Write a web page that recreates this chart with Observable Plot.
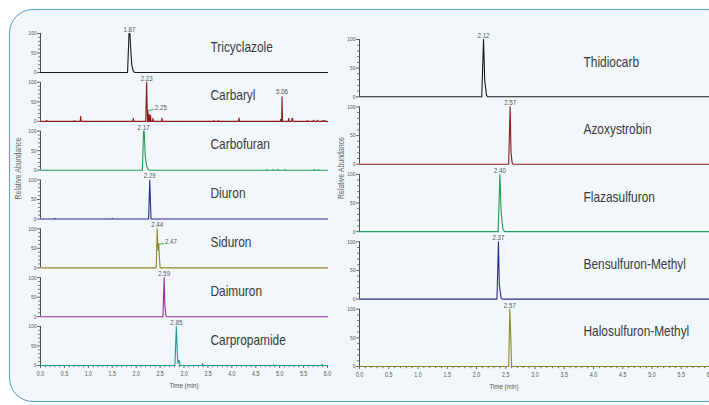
<!DOCTYPE html>
<html>
<head>
<meta charset="utf-8">
<script src="https://cdn.jsdelivr.net/npm/d3@7"></script>
<script src="https://cdn.jsdelivr.net/npm/@observablehq/plot@0.6"></script>
<style>
  html, body { margin: 0; padding: 0; background: #ffffff; }
  #wrap { position: relative; width: 709px; height: 405px; overflow: hidden; background: #ffffff; }
  #box { position: absolute; left: 9px; top: 9px; width: 720px; height: 391px; border: 1.5px solid #4f9fd3; border-radius: 24px; background: #f1f7fa; }
  #left { position: absolute; left: 0; top: 0; }
  #right { position: absolute; left: 330px; top: 0; }
</style>
</head>
<body>
<div id="wrap"><div id="box"></div><div id="left"></div><div id="right"></div></div>
<script>
// ---------- categories ----------
const leftNames = ["Tricyclazole", "Carbaryl", "Carbofuran", "Diuron", "Siduron", "Daimuron", "Carpropamide"];
const leftColors = ["#1a1a1a", "#8b1c1c", "#1f9e50", "#2b2b8f", "#8c8a2c", "#9b2a98", "#179a9a"];
const rightNames = ["Thidiocarb", "Azoxystrobin", "Flazasulfuron", "Bensulfuron-Methyl", "Halosulfuron-Methyl"];
const rightColors = ["#1a1a1a", "#8b1c1c", "#1f9e50", "#2b2b8f", "#8c8a2c"];

// ---------- tick labels ----------
const xMajor = [0, 0.5, 1, 1.5, 2, 2.5, 3, 3.5, 4, 4.5, 5, 5.5, 6];
const xMinor = [0.1,0.2,0.3,0.4,0.6,0.7,0.8,0.9,1.1,1.2,1.3,1.4,1.6,1.7,1.8,1.9,2.1,2.2,2.3,2.4,2.6,2.7,2.8,2.9,3.1,3.2,3.3,3.4,3.6,3.7,3.8,3.9,4.1,4.2,4.3,4.4,4.6,4.7,4.8,4.9,5.1,5.2,5.3,5.4,5.6,5.7,5.8,5.9];
const yMajor = [0, 50, 100];
const yMinor = [10, 20, 30, 40, 60, 70, 80, 90];

// ---------- chromatogram traces: [time (min), relative abundance] ----------
const tricyclazole = [[0,0],[1.82,0],[1.85,100],[1.87,100],[1.89,50],[1.91,18],[1.94,4],[1.97,0],[6,0]];
const carbaryl = [[0,0],[0.12,0],[0.13,3],[0.14,0],[0.70,0],[0.71,2],[0.72,0],[0.83,0],[0.84,13],[0.85,0],
  [1.93,0],[1.94,8],[1.95,0],[2.20,0],[2.22,100],[2.235,0],[2.24,0],[2.245,27],[2.255,0],[2.265,0],[2.27,18],[2.28,0],
  [2.29,0],[2.30,16],[2.31,0],[2.34,0],[2.35,8],[2.36,0],[2.53,0],[2.54,8],[2.55,0],[3.61,0],[3.62,2],[3.63,0],
  [3.71,0],[3.72,2],[3.73,0],[4.14,0],[4.15,9],[4.16,0],[5.01,0],[5.02,5],[5.03,0],[5.04,0],[5.05,63],[5.06,0],
  [5.18,0],[5.19,8],[5.20,0],[5.25,0],[5.26,8],[5.27,8],[5.28,0],[5.57,0],[5.58,2],[5.59,0],[5.70,0],[5.71,3],[5.72,0],
  [5.78,0],[5.79,3],[5.80,0],[5.89,0],[5.90,3],[5.91,0],[5.93,0],[5.94,2],[5.95,0],[6,0]];
const carbofuran = [[0,0],[2.13,0],[2.155,100],[2.17,98],[2.19,35],[2.22,10],[2.25,2],[2.28,0],
  [4.72,0],[4.73,2],[4.74,0],[4.85,0],[4.86,2],[4.87,0],[4.95,0],[4.96,2],[4.97,0],[5.10,0],[5.11,2],[5.12,0],
  [5.72,0],[5.73,2],[5.74,0],[5.80,0],[5.81,2],[5.82,0],[6,0]];
const diuron = [[0,0],[0.29,0],[0.30,1.5],[0.31,0],[1.49,0],[1.50,1.5],[1.51,0],[2.26,0],[2.285,100],[2.31,0],[6,0]];
const siduron = [[0,0],[2.42,0],[2.44,100],[2.455,45],[2.47,62],[2.50,0],[6,0]];
const daimuron = [[0,0],[2.56,0],[2.585,100],[2.60,30],[2.62,3],[2.64,0],[6,0]];
const carpropamide = [[0,0],[2.81,0],[2.84,100],[2.865,20],[2.875,5],[2.885,13],[2.90,12],[2.92,0],
  [3.38,0],[3.39,5],[3.40,0],[4.86,0],[4.87,2],[4.88,0],[5.88,0],[5.89,3],[5.90,0],[6,0]];
const thidiocarb = [[0,0],[2.09,0],[2.12,100],[2.14,30],[2.17,3],[2.19,0],[6,0]];
const azoxystrobin = [[0,0],[2.55,0],[2.575,100],[2.59,20],[2.61,2],[2.63,0],[6,0]];
const flazasulfuron = [[0,0],[2.37,0],[2.40,100],[2.42,35],[2.45,5],[2.48,0],[6,0]];
const bensulfuron = [[0,0],[2.35,0],[2.375,100],[2.39,25],[2.42,2],[2.44,0],[6,0]];
const halosulfuron = [[0,0],[2.55,0],[2.57,100],[2.585,55],[2.60,0],[6,0]];

const leftTraces = [tricyclazole, carbaryl, carbofuran, diuron, siduron, daimuron, carpropamide];
const rightTraces = [thidiocarb, azoxystrobin, flazasulfuron, bensulfuron, halosulfuron];

// ---------- peak retention-time labels ----------
const leftPeakTimes = [1.86, 2.22, 2.155, 2.285, 2.44, 2.585, 2.84];
const leftPeakLabels = ["1.87", "2.23", "2.17", "2.29", "2.44", "2.59", "2.85"];
const rightPeakTimes = [2.12, 2.575, 2.40, 2.375, 2.57];
const rightPeakLabels = ["2.12", "2.57", "2.40", "2.37", "2.57"];
// extra labels: [compound, time, abundance, label time, label abundance, text]
const extraLabels = [
  ["Carbaryl", 2.24, 27, 2.37, 31, "2.25"],
  ["Carbaryl", 5.05, 63, 5.05, 63, "5.06"],
  ["Siduron", 2.47, 60, 2.58, 62, "2.47"]
];

const FONT = "'Liberation Sans', Arial, 'Roboto', sans-serif";

function rowsOf(names, traces) {
  const rows = [];
  names.forEach((n, i) => traces[i].forEach(([t, v]) => rows.push({name: n, t, v})));
  return rows;
}

function panel({names, colors, traces, peakTimes, peakLabels, width, height, marginLeft, marginRight, marginTop, marginBottom, padInner, nameDx, nameDy, yLabelDx, yLabelFacet, yLabelDy, timeDx}) {
  const rows = rowsOf(names, traces);
  const peaks = names.map((n, i) => ({name: n, t: peakTimes[i], v: 100, label: peakLabels[i]}));
  const extras = extraLabels.filter(d => names.includes(d[0]) && d[1] !== d[3])
    .map(d => ({name: d[0], t: d[1], v: d[2], lt: d[3], lv: d[4], label: d[5]}));
  const extrasTop = extraLabels.filter(d => names.includes(d[0]) && d[1] === d[3])
    .map(d => ({name: d[0], t: d[1], v: d[2], label: d[5]}));
  const last = names[names.length - 1];
  return Plot.plot({
    width, height, marginLeft, marginRight, marginTop, marginBottom,
    style: `background: none; overflow: visible; max-width: none; font-family: ${FONT}; color: #555;`,
    x: {domain: [0, 6]},
    y: {domain: [0, 100]},
    fy: {domain: names, paddingInner: padInner, paddingOuter: 0, axis: null, round: false},
    color: {domain: names, range: colors},
    marks: [
      Plot.ruleX([0], {y1: 0, y2: 100, stroke: "#222", strokeWidth: 0.8}),
      Plot.axisY({ticks: yMinor, tickSize: 2, text: null, label: null, stroke: "#222", strokeWidth: 0.6}),
      Plot.axisY({ticks: yMajor, tickSize: 3, tickPadding: 1, fontSize: 6, label: null, stroke: "#222", strokeWidth: 0.7, fill: "#555"}),
      Plot.axisX({ticks: xMinor, tickSize: 2.2, text: null, label: null, stroke: "#222", strokeWidth: 0.7}),
      Plot.axisX({ticks: xMajor, tickSize: 3, tickPadding: 3, fontSize: 6.5, label: null, tickFormat: d3.format(".1f"), stroke: "#222", strokeWidth: 0.7, fill: "#555"}),
      Plot.line(rows, {x: "t", y: "v", fy: "name", z: "name", stroke: "name", strokeWidth: 1.1, curve: "linear"}),
      Plot.link(extras, {x1: "t", y1: "v", x2: "lt", y2: "lv", fy: "name", stroke: "#3cb44b", strokeWidth: 1}),
      Plot.text(extras, {x: "lt", y: "lv", fy: "name", text: "label", textAnchor: "start", dx: 1, dy: -2, fontSize: 7.5, fill: "#555"}),
      Plot.text(extrasTop, {x: "t", y: "v", fy: "name", text: "label", dy: -5, fontSize: 7.5, fill: "#555"}),
      Plot.text(peaks, {x: "t", y: "v", fy: "name", text: "label", dy: -4, fontSize: 7.5, fill: "#555"}),
      Plot.text(names, {fy: d => d, text: d => d, frameAnchor: "left", textAnchor: "start", dx: nameDx, dy: nameDy, fontSize: 14.5, fill: "#3a3a3a"}),
      Plot.text(["Relative Abundance"], {fy: () => yLabelFacet, text: d => d, frameAnchor: "left", dx: yLabelDx, dy: yLabelDy, rotate: -90, fontSize: 8.5, fill: "#666"}),
      Plot.text(["Time (min)"], {fy: () => last, text: d => d, frameAnchor: "bottom", dx: timeDx, dy: 22, fontSize: 7.5, fill: "#555"})
    ]
  });
}

// condense glyphs horizontally (the original uses a condensed typeface)
function condense(svg, k) {
  svg.querySelectorAll("text").forEach(t => {
    if (t.querySelector("tspan")) {
      t.querySelectorAll("tspan").forEach(s => {
        const len = s.getComputedTextLength();
        if (len > 0) { s.setAttribute("textLength", (len * k).toFixed(2)); s.setAttribute("lengthAdjust", "spacingAndGlyphs"); }
      });
    } else {
      const len = t.getComputedTextLength();
      if (len > 0) { t.setAttribute("textLength", (len * k).toFixed(2)); t.setAttribute("lengthAdjust", "spacingAndGlyphs"); }
    }
  });
}

const leftSvg = panel({
  names: leftNames, colors: leftColors, traces: leftTraces,
  peakTimes: leftPeakTimes, peakLabels: leftPeakLabels,
  width: 340, height: 405, marginLeft: 40, marginRight: 13, marginTop: 33, marginBottom: 40, padInner: 0.2,
  nameDx: 170, nameDy: -6, yLabelDx: -22, yLabelFacet: leftNames[3], yLabelDy: 0, timeDx: 0
});
document.getElementById("left").appendChild(leftSvg);
condense(leftSvg, 0.82);

const rightSvg = panel({
  names: rightNames, colors: rightColors, traces: rightTraces,
  peakTimes: rightPeakTimes, peakLabels: rightPeakLabels,
  width: 390, height: 405, marginLeft: 29, marginRight: 10, marginTop: 39, marginBottom: 39, padInner: 0.15,
  nameDx: 224, nameDy: -6, yLabelDx: -18, yLabelFacet: rightNames[2], yLabelDy: -4, timeDx: -31
});
document.getElementById("right").appendChild(rightSvg);
condense(rightSvg, 0.82);
</script>
</body>
</html>
